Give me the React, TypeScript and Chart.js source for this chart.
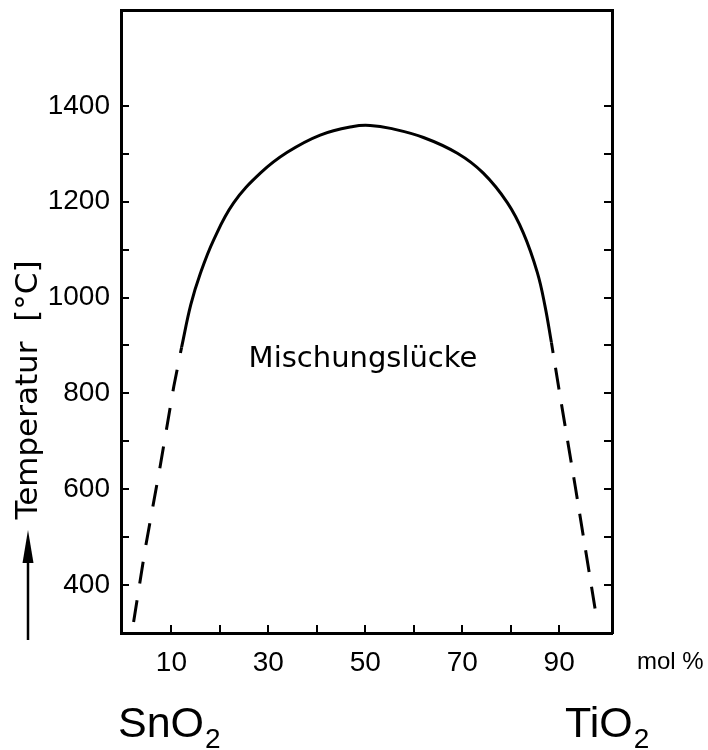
import React, { useEffect, useRef } from 'react';
import { Chart, registerables } from 'chart.js';

Chart.register(...registerables);

// Miscibility gap SnO2 - TiO2 (mol % TiO2 vs temperature in °C)
const solidMol = [12.1, 14.0, 16.0, 18.7, 22.8, 28.4, 33.9, 40.7, 47.5, 51.0, 55.2, 62.0, 69.0, 74.3, 79.3, 82.6, 85.5, 87.1, 88.4];
const solidTemp = [896, 985, 1051, 1120, 1197, 1260, 1303, 1339, 1357, 1359, 1353, 1334, 1301, 1260, 1198, 1135, 1052, 981, 906];

const leftDashMol = [2.2, 4.6, 7.7, 10.5, 12.1];
const leftDashTemp = [323, 476, 649, 815, 896];

const rightDashMol = [97.4, 93.3, 90.2, 88.4];
const rightDashTemp = [351, 607, 794, 906];

const xTickValues = [10, 20, 30, 40, 50, 60, 70, 80, 90];
const xTickLabels = ['10', '30', '50', '70', '90'];
const yTickValues = [400, 500, 600, 700, 800, 900, 1000, 1100, 1200, 1300, 1400];
const yTickLabels = ['400', '600', '800', '1000', '1200', '1400'];

const xMin = -0.4;
const xMax = 100.9;
const yMin = 300;
const yMax = 1600;

const gapLabel = 'Mischungslücke';
const yTitle = 'Temperatur  [°C]';
const xUnit = 'mol %';
const leftCompound = ['SnO', '2'];
const rightCompound = ['TiO', '2'];

const toPoints = (xs: number[], ys: number[]) => xs.map((x, i) => ({ x, y: ys[i] }));

const annotations = {
  id: 'annotations',
  afterDraw(chart: any) {
    const ctx = chart.ctx as CanvasRenderingContext2D;
    ctx.save();
    ctx.fillStyle = '#000';
    ctx.strokeStyle = '#000';

    // label inside the gap
    ctx.font = '29px "DejaVu Sans"';
    ctx.textAlign = 'center';
    ctx.textBaseline = 'alphabetic';
    ctx.fillText(gapLabel, 363, 367);

    // y title rotated
    ctx.save();
    ctx.translate(37, 390);
    ctx.rotate(-Math.PI / 2);
    ctx.font = '31px "DejaVu Sans"';
    ctx.textAlign = 'center';
    ctx.textBaseline = 'alphabetic';
    ctx.fillText(yTitle, 0, 0);
    ctx.restore();

    // arrow
    ctx.lineWidth = 2.5;
    ctx.beginPath();
    ctx.moveTo(28, 640);
    ctx.lineTo(28, 555);
    ctx.stroke();
    ctx.beginPath();
    ctx.moveTo(28, 530);
    ctx.lineTo(22.5, 563);
    ctx.lineTo(33.5, 563);
    ctx.closePath();
    ctx.fill();

    // unit
    ctx.font = '24px "Liberation Sans"';
    ctx.textAlign = 'left';
    ctx.textBaseline = 'middle';
    ctx.fillText(xUnit, 637, 662);

    // compounds
    const drawCompound = (parts: string[], x: number) => {
      ctx.textAlign = 'left';
      ctx.textBaseline = 'alphabetic';
      ctx.font = '43px "Liberation Sans"';
      ctx.fillText(parts[0], x, 737);
      const w = ctx.measureText(parts[0]).width;
      ctx.font = '28px "Liberation Sans"';
      ctx.fillText(parts[1], x + w + 1, 748);
    };
    drawCompound(leftCompound, 118);
    drawCompound(rightCompound, 565);

    ctx.restore();
  },
};

const tickFont = { family: '"Liberation Sans"', size: 28 };

export default function App() {
  const canvasRef = useRef<HTMLCanvasElement | null>(null);

  useEffect(() => {
    const canvas = canvasRef.current;
    if (!canvas) return;
    const lineStyle = {
      borderColor: '#000',
      borderWidth: 3,
      pointRadius: 0,
      fill: false,
    };
    const chart = new Chart(canvas, {
      type: 'line',
      data: {
        datasets: [
          {
            ...lineStyle,
            data: toPoints(solidMol, solidTemp),
            tension: 0.4,
          },
          {
            ...lineStyle,
            data: toPoints(leftDashMol, leftDashTemp),
            borderDash: [22, 17],
            tension: 0,
          },
          {
            ...lineStyle,
            data: toPoints(rightDashMol, rightDashTemp),
            borderDash: [22, 15],
            tension: 0,
          },
        ] as any,
      },
      options: {
        animation: false,
        responsive: false,
        devicePixelRatio: 1,
        layout: { padding: 0 },
        plugins: {
          legend: { display: false },
          tooltip: { enabled: false },
        },
        scales: {
          x: {
            type: 'linear',
            position: 'bottom',
            min: xMin,
            max: xMax,
            afterBuildTicks: (s: any) => {
              s.ticks = xTickValues.map((v) => ({ value: v }));
            },
            ticks: {
              autoSkip: false,
              maxRotation: 0,
              minRotation: 0,
              padding: 21,
              color: '#000',
              font: tickFont,
              callback: (v: any) => (xTickLabels.includes(String(v)) ? String(v) : ''),
            },
            grid: {
              drawOnChartArea: false,
              drawTicks: true,
              tickLength: -8,
              lineWidth: 2,
              color: '#000',
            },
            border: { display: true, color: '#000', width: 3 },
            afterFit: (s: any) => {
              s.height = 117;
              s.paddingLeft = 0;
              s.paddingRight = 0;
            },
          },
          xTop: {
            type: 'linear',
            position: 'top',
            min: xMin,
            max: xMax,
            ticks: { display: false },
            grid: { drawOnChartArea: false, drawTicks: false },
            border: { display: true, color: '#000', width: 3 },
            afterFit: (s: any) => {
              s.height = 10;
              s.paddingLeft = 0;
              s.paddingRight = 0;
            },
          },
          y: {
            type: 'linear',
            position: 'left',
            min: yMin,
            max: yMax,
            afterBuildTicks: (s: any) => {
              s.ticks = yTickValues.map((v) => ({ value: v }));
            },
            ticks: {
              autoSkip: false,
              padding: 19,
              color: '#000',
              font: tickFont,
              callback: (v: any) => (yTickLabels.includes(String(v)) ? String(v) : ''),
            },
            grid: {
              drawOnChartArea: false,
              drawTicks: true,
              tickLength: -8,
              lineWidth: 2,
              color: '#000',
            },
            border: { display: true, color: '#000', width: 3 },
            afterFit: (s: any) => {
              s.width = 121;
              s.paddingTop = 0;
              s.paddingBottom = 0;
            },
          },
          y2: {
            type: 'linear',
            position: 'right',
            min: yMin,
            max: yMax,
            afterBuildTicks: (s: any) => {
              s.ticks = yTickValues.map((v) => ({ value: v }));
            },
            ticks: { display: false },
            grid: {
              drawOnChartArea: false,
              drawTicks: true,
              tickLength: -8,
              lineWidth: 2,
              color: '#000',
            },
            border: { display: true, color: '#000', width: 3 },
            afterFit: (s: any) => {
              s.width = 96;
              s.paddingTop = 0;
              s.paddingBottom = 0;
            },
          },
        } as any,
      },
      plugins: [annotations],
    });
    return () => chart.destroy();
  }, []);

  return (
    <div style={{ position: 'fixed', left: 0, top: 0, width: 708, height: 750, background: '#fff' }}>
      <canvas ref={canvasRef} width={708} height={750} style={{ display: 'block' }} />
    </div>
  );
}
